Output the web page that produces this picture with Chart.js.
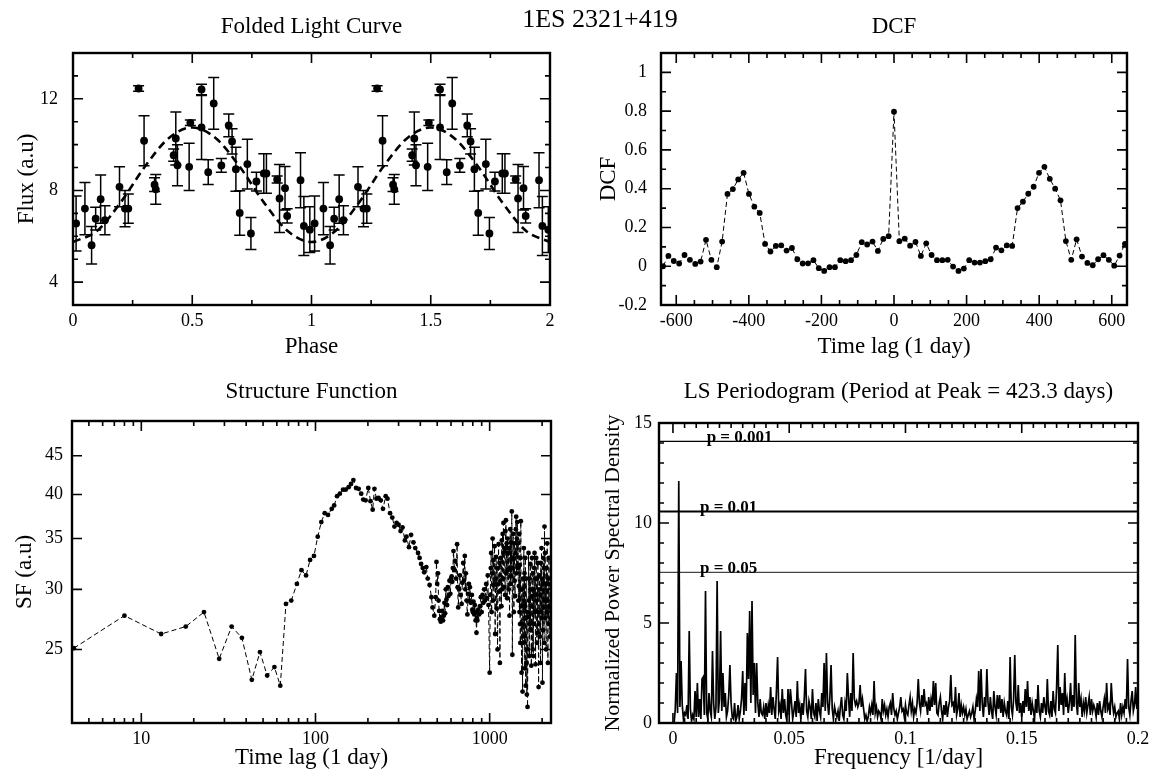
<!DOCTYPE html>
<html>
<head>
<meta charset="utf-8">
<script src="https://cdn.jsdelivr.net/npm/chart.js@4.4.0/dist/chart.umd.min.js"></script>
<style>
  body { margin: 0; background: #fff; }
  #wrap { position: relative; width: 1157px; height: 776px; overflow: hidden; }
  canvas { position: absolute; }
  #mainTitle { position: absolute; left: 500px; width: 200px; top: 4px; text-align: center;
               font: 26px 'Liberation Serif', serif; color: #000; }
</style>
</head>
<body>
<div id="wrap">
  <canvas id="fold" width="580" height="380" style="left:0;top:0"></canvas>
  <canvas id="dcf" width="577" height="380" style="left:580px;top:0"></canvas>
  <canvas id="sf" width="580" height="416" style="left:0;top:360px"></canvas>
  <canvas id="ls" width="577" height="416" style="left:580px;top:360px"></canvas>
  <div id="mainTitle">1ES 2321+419</div>
</div>
<script>
// ---- data ----

// folded light curve, one cycle (drawn again shifted by one phase)
var foldPhase = [0.013, 0.050, 0.078, 0.095, 0.116, 0.134, 0.195, 0.218, 0.232, 0.275,
                 0.298, 0.342, 0.347, 0.422, 0.431, 0.438, 0.487, 0.492, 0.539, 0.539,
                 0.567, 0.590, 0.622, 0.653, 0.667, 0.683, 0.699, 0.731, 0.746, 0.769,
                 0.800, 0.811, 0.856, 0.866, 0.889, 0.898, 0.954, 0.968, 0.993];
var foldFlux = [6.56, 7.21, 5.61, 6.77, 7.62, 6.70, 8.16, 7.21, 7.21, 12.45,
                10.17, 8.25, 8.05, 9.54, 10.27, 9.10, 9.03, 10.95, 12.41, 10.75,
                8.80, 11.80, 9.09, 10.84, 10.14, 8.93, 7.02, 9.15, 6.12, 8.39,
                8.74, 8.74, 8.48, 7.65, 8.10, 6.89, 8.45, 6.45, 6.29];
var foldErr = [1.20, 1.14, 0.82, 0.50, 1.05, 0.63, 0.87, 0.79, 0.64, 0.12,
               1.09, 0.30, 0.65, 0.27, 1.16, 0.90, 1.03, 0.12, 0.23, 1.40,
               0.54, 1.13, 0.30, 0.50, 0.55, 0.96, 0.97, 1.09, 0.70, 0.41,
               0.86, 0.86, 0.15, 1.48, 0.95, 0.31, 1.20, 1.29, 1.00];
var fitPhase = [0, 0.1, 0.2, 0.3, 0.4, 0.5, 0.6, 0.7, 0.8, 0.9, 1.0,
                1.1, 1.2, 1.3, 1.4, 1.5, 1.6, 1.7, 1.8, 1.9, 2.0];
var fitFlux = [5.75, 6.23, 7.48, 9.02, 10.27, 10.75, 10.27, 9.02, 7.48, 6.23, 5.75,
               6.23, 7.48, 9.02, 10.27, 10.75, 10.27, 9.02, 7.48, 6.23, 5.75];

// discrete correlation function, lags k*step for k = -43..43
var dcfLagStep = 14.8;
var dcfValues = [0.000, 0.053, 0.027, 0.014, 0.058, 0.033, 0.012, 0.024, 0.136, 0.033,
                 -0.005, 0.127, 0.373, 0.398, 0.448, 0.482, 0.373, 0.307, 0.275, 0.115,
                 0.076, 0.105, 0.108, 0.081, 0.094, 0.036, 0.014, 0.015, 0.031, -0.010,
                 -0.024, -0.005, -0.005, 0.031, 0.026, 0.031, 0.058, 0.124, 0.112, 0.127,
                 0.079, 0.141, 0.155, 0.797, 0.129, 0.142, 0.106, 0.125, 0.053, 0.118,
                 0.058, 0.031, 0.031, 0.033, -0.002, -0.024, -0.012, 0.031, 0.019, 0.019,
                 0.026, 0.036, 0.096, 0.082, 0.108, 0.105, 0.300, 0.333, 0.374, 0.410,
                 0.482, 0.513, 0.451, 0.400, 0.340, 0.130, 0.033, 0.139, 0.050, 0.017,
                 0.005, 0.036, 0.057, 0.033, 0.003, 0.055, 0.115];

// structure function
var sfLag = [4.1, 8.0, 13.0, 18.0, 22.9, 28.0, 33.0, 37.8, 43.1, 48.0, 52.8, 58.1, 62.8,
  67.7, 72.6, 78.2, 83.1, 88.3, 93.1, 98.0, 103, 108, 113, 118, 124, 128, 133, 138, 144,
  149, 155, 160, 165, 171, 177, 183, 188, 194, 201, 207, 213, 218, 224, 230, 237, 244,
  253, 259, 268, 276, 284, 292, 300, 308, 316, 326, 333, 344, 354, 365, 374, 388, 396,
  404, 413, 421, 433, 441, 452, 463, 470, 481,
  490, 495, 500, 505, 509, 513, 518, 524, 529, 535, 540, 545, 550, 555, 560, 565, 570,
  575, 580, 588, 595, 600, 605, 610, 615, 620, 627, 635, 642, 650, 655, 660, 667, 675,
  682, 690, 697, 705, 712, 720, 725, 730, 737, 745, 752, 760, 765, 770, 780, 790, 795,
  800, 808, 815, 822, 830, 835, 840, 845, 850, 860, 870, 880, 890, 900, 910, 920, 930,
  940, 955, 965, 975, 985,
  1000, 1008, 1015, 1020, 1027, 1033, 1040, 1047, 1053, 1060, 1067, 1075, 1082, 1090,
  1097, 1103, 1110, 1118, 1125, 1132, 1138, 1145, 1152, 1160, 1168, 1174, 1180, 1188,
  1194, 1200, 1207, 1213, 1220, 1227, 1233, 1240, 1247, 1253, 1260, 1267, 1273, 1280,
  1287, 1293, 1300, 1307, 1313, 1320, 1325, 1333, 1340, 1345, 1350, 1356, 1363, 1370,
  1378, 1385, 1392, 1400, 1407, 1413, 1420, 1427, 1433, 1440, 1447, 1455, 1462, 1470,
  1477, 1483, 1490, 1495, 1500, 1505, 1510, 1517, 1525, 1532, 1538, 1545, 1552, 1558,
  1565, 1572, 1578, 1585, 1590, 1597, 1603, 1610, 1617, 1623, 1630, 1635, 1642, 1650,
  1657, 1665, 1672, 1680, 1690, 1697, 1703, 1710, 1717, 1723, 1735, 1742, 1750, 1760,
  1767, 1773, 1780, 1788, 1795, 1803, 1810, 1817, 1825, 1835, 1842, 1850, 1860, 1867,
  1875, 1885, 1892, 1900, 1910, 1917, 1925, 1935, 1942, 1950, 1960, 1967, 1975, 1985,
  1992, 2000, 2010, 2018, 2025, 2033, 2040, 2048, 2055, 2065, 2072, 2080, 2090, 2100,
  2110, 2120, 2130, 2140, 2150, 2160, 2170, 2180, 2190, 2200, 2215, 2230];
var sfValue = [25.1, 27.7, 26.2, 26.8, 28.0, 24.3, 26.8, 25.9, 22.8, 24.8, 23.1, 23.7, 22.4,
  28.7, 29.0, 30.5, 31.8, 31.3, 32.8, 33.2, 35.2, 36.8, 37.8, 37.6, 38.3, 38.7, 39.8, 40.1, 40.6,
  40.6, 40.9, 41.3, 41.8, 40.8, 40.7, 40.1, 39.4, 39.3, 40.8, 39.2, 38.2, 40.7, 39.5, 39.6, 39.3, 38.3,
  39.8, 39.5, 37.8, 37.3, 36.3, 36.7, 36.5, 35.8, 36.2, 34.8, 35.2, 34.1, 35.4, 34.6, 34.0, 33.5, 33.0,
  32.4, 32.0, 31.6, 32.1, 31.0, 30.4, 29.3, 28.4, 27.7,
  29.3, 32.6, 30.5, 31.5, 29.0, 28.1, 27.4, 27.2, 27.6, 28.1, 27.3, 27.7, 28.8, 27.9, 30.0, 29.1, 28.6,
  30.2, 29.4, 30.8, 29.6, 31.0, 31.2, 30.7, 32.0, 33.7, 31.8, 32.7, 31.0, 34.4, 30.2, 28.4, 30.0, 31.3,
  29.5, 28.7, 30.6, 32.5, 30.8, 33.2, 30.0, 31.5, 29.0, 27.8, 29.6, 30.5, 29.0, 30.2, 28.8, 29.5, 28.2,
  28.0, 28.9, 27.8, 28.6, 27.3, 28.0, 26.3, 27.5, 27.3, 28.2, 27.8, 28.5, 29.3, 28.0, 29.5, 28.8, 30.0,
  29.0, 30.5, 29.2, 31.3, 28.6,
  23.3, 29.5, 32.0, 33.5, 28.0, 31.5, 35.0, 29.0, 32.8, 30.4, 34.2, 26.2, 31.0, 33.1,
  28.3, 32.0, 25.0, 30.5, 34.4, 29.8, 32.5, 24.0, 30.8, 33.0, 28.5, 34.8, 30.0, 35.5,
  31.0, 36.7, 30.2, 34.0, 33.6, 29.5, 35.8, 37.0, 31.5, 34.5, 29.2, 35.0, 31.8, 33.5,
  30.0, 34.0, 27.7, 32.0, 36.0, 30.5, 34.6, 31.2, 38.0, 33.0, 24.6, 32.0, 35.5, 32.9,
  28.0, 34.5, 30.8, 29.4, 33.5, 36.0, 37.4, 31.5, 35.0, 36.8, 32.0, 34.5, 29.0, 30.3,
  35.5, 28.0, 32.3, 27.0, 25.5, 33.0, 36.9, 28.5, 23.3, 30.0, 27.0, 22.0, 31.0, 25.5,
  29.0, 34.0, 26.0, 31.5, 23.6, 28.5, 33.0, 22.4, 27.5, 31.0, 24.0, 21.8, 28.0, 21.0,
  25.0, 27.6, 33.5, 29.0, 24.5, 31.0, 27.0, 32.4, 26.5, 30.0, 23.8, 28.5, 33.0, 29.4,
  25.0, 31.5, 24.5, 30.0, 27.0, 32.0, 33.5, 28.0, 31.0, 23.9, 29.5, 33.0, 29.0, 25.5,
  31.0, 26.3, 32.5, 28.0, 22.3, 27.0, 30.0, 31.3, 26.0, 29.5, 24.0, 32.5, 28.0, 34.0,
  27.5, 31.0, 22.6, 30.5, 26.5, 33.0, 28.4, 32.0, 25.5, 36.3, 29.0, 33.5, 27.5, 30.5,
  25.0, 32.0, 28.0, 34.5, 29.0, 24.0, 31.0, 27.0, 33.0, 28.5, 26.0, 30.5];

// Lomb-Scargle periodogram, frequency i*step for i = 1..400
var lsStep = 0.0005;
var lsPower = [
  0.0, 0.7, 2.5, 0.5, 12.1, 0.8, 3.1, 0.9, 0.2, 0.5, 0.4, 0.9, 0.2, 4.6, 0.7, 0.1, 0.4, 0.2, 1.6, 0.3,
  2.0, 0.3, 1.2, 0.2, 2.2, 2.3, 0.4, 6.6, 0.5, 0.2, 1.5, 0.6, 0.3, 3.6, 1.0, 0.2, 0.8, 7.1, 0.5, 1.2,
  4.6, 0.6, 2.5, 0.8, 1.5, 0.3, 0.6, 1.4, 2.9, 1.0, 0.3, 0.2, 1.0, 0.1, 0.3, 0.9, 0.2, 0.6, 1.2, 2.6,
  0.4, 2.0, 0.6, 4.5, 2.2, 5.6, 1.0, 6.1, 1.4, 3.0, 0.5, 3.0, 1.0, 0.3, 1.2, 0.5, 0.4, 0.8, 0.2, 1.0,
  0.3, 0.9, 0.5, 1.8, 0.4, 1.3, 0.7, 0.2, 1.6, 3.3, 0.6, 0.9, 0.2, 1.7, 0.5, 1.2, 0.4, 0.1, 1.7, 0.4,
  1.7, 1.0, 0.2, 0.6, 1.1, 0.3, 2.1, 0.5, 0.9, 0.2, 1.0, 0.4, 1.3, 2.7, 0.6, 0.3, 1.1, 0.8, 0.2, 1.7,
  0.5, 0.3, 1.0, 0.1, 1.2, 0.6, 0.3, 1.5, 0.8, 3.0, 0.6, 3.5, 1.0, 0.4, 1.3, 2.9, 0.7, 0.2, 0.8, 0.5,
  0.3, 0.6, 0.1, 0.8, 1.3, 0.4, 0.2, 1.0, 0.6, 2.5, 1.3, 0.3, 1.5, 0.6, 3.5, 1.2, 0.9, 1.1, 0.8, 1.0,
  1.9, 0.8, 1.2, 0.7, 0.2, 0.4, 0.1, 0.3, 0.8, 0.5, 0.9, 0.4, 2.1, 0.5, 0.8, 0.3, 0.6, 0.5, 0.2, 1.2,
  0.6, 0.9, 0.4, 0.7, 0.3, 0.8, 1.0, 0.4, 1.5, 0.7, 0.4, 0.6, 0.2, 0.5, 0.8, 1.3, 0.6, 0.7, 0.3, 0.9,
  0.5, 0.4, 0.9, 1.3, 0.6, 1.0, 0.3, 0.7, 0.5, 1.0, 2.2, 1.0, 0.6, 1.4, 0.8, 1.7, 0.9, 1.0, 0.4, 1.3,
  0.6, 1.2, 0.8, 2.1, 0.9, 2.0, 0.5, 0.4, 1.0, 1.3, 0.6, 0.2, 0.9, 0.4, 1.1, 0.3, 0.8, 1.1, 2.4, 0.9,
  1.0, 0.5, 1.8, 0.4, 0.7, 1.5, 0.3, 0.9, 0.5, 0.8, 0.4, 0.7, 0.2, 0.4, 0.6, 0.3, 0.5, 0.8, 0.2, 0.6,
  1.2, 0.8, 2.6, 0.6, 2.7, 1.0, 0.3, 1.3, 0.8, 2.7, 1.0, 0.4, 1.3, 0.6, 0.2, 1.6, 0.8, 0.4, 1.4, 0.7,
  1.4, 0.5, 1.2, 0.3, 1.0, 0.6, 0.4, 1.1, 0.2, 3.3, 0.8, 0.4, 1.2, 3.4, 1.0, 0.6, 1.9, 0.5, 1.0, 0.3,
  1.1, 0.5, 1.7, 0.8, 2.1, 0.6, 1.3, 0.4, 1.0, 0.6, 0.2, 1.2, 0.5, 1.9, 0.6, 0.3, 1.0, 0.5, 1.3, 0.8,
  0.4, 2.2, 0.6, 0.4, 1.1, 0.3, 1.6, 0.7, 0.5, 1.8, 3.9, 0.6, 1.8, 0.9, 1.5, 0.4, 2.5, 0.8, 1.2, 0.5,
  1.0, 2.0, 0.6, 1.4, 0.8, 4.4, 1.0, 0.4, 2.0, 0.8, 1.2, 0.3, 1.0, 0.6, 1.3, 0.5, 0.9, 1.3, 0.4, 1.2,
  0.6, 0.9, 0.7, 0.3, 1.0, 0.4, 1.1, 0.6, 0.3, 0.8, 1.2, 0.5, 2.0, 0.7, 0.9, 0.4, 2.0, 1.0, 0.5, 0.8,
  0.3, 0.5, 0.6, 0.2, 1.0, 0.4, 0.8, 0.5, 1.2, 0.7, 3.2, 0.8, 0.4, 1.1, 1.6, 0.6, 0.9, 1.8, 0.7, 1.6];

// significance levels
var pLevels = [14.08, 10.58, 7.53];
var pNames = ['p = 0.001', 'p = 0.01', 'p = 0.05'];

// tick labels
var phaseTicks = [0, 0.5, 1, 1.5, 2];
var fluxTicks = [4, 8, 12];
var lagTicks = [-600, -400, -200, 0, 200, 400, 600];
var dcfTicks = [-0.2, 0, 0.2, 0.4, 0.6, 0.8, 1];
var sfLagTicks = [10, 100, 1000];
var sfTicks = [25, 30, 35, 40, 45];
var freqTicks = [0, 0.05, 0.1, 0.15, 0.2];
var psdTicks = [0, 5, 10, 15];

// ---- helpers ----
var serif = "'Liberation Serif', 'Times New Roman', serif";

function steps(a, b, st, skip) {
  var out = [];
  for (var v = a; v <= b + st / 100; v += st) {
    var r = Math.round(v * 10000) / 10000;
    if (skip.indexOf(r) < 0) out.push(r);
  }
  return out;
}

function axis(o) {
  return {
    type: o.type || 'linear',
    min: o.min,
    max: o.max,
    grid: { display: false, drawTicks: false },
    border: { display: false },
    ticks: {
      color: '#000', font: { family: serif, size: 18 }, padding: o.pad,
      maxRotation: 0, autoSkip: false,
      callback: function (v) { return String(v); }
    },
    afterBuildTicks: function (s) { s.ticks = o.labels.map(function (v) { return { value: v }; }); },
    title: { display: true, text: o.title, color: '#000', font: { family: serif, size: o.titleSize || 23 }, padding: o.titlePad },
    afterFit: function (s) { if (s.isHorizontal()) s.height = o.size; else s.width = o.size; }
  };
}

// inward ticks on all four sides plus the frame
var frameTicks = {
  id: 'frameTicks',
  afterDraw: function (chart, args, o) {
    if (!o || !o.x) return;
    var ctx = chart.ctx, a = chart.chartArea, xs = chart.scales.x, ys = chart.scales.y;
    ctx.save();
    ctx.strokeStyle = '#000';
    ctx.lineWidth = 1.6;
    ctx.beginPath();
    function xt(vals, len) {
      vals.forEach(function (v) {
        var p = xs.getPixelForValue(v);
        ctx.moveTo(p, a.bottom); ctx.lineTo(p, a.bottom - len);
        ctx.moveTo(p, a.top); ctx.lineTo(p, a.top + len);
      });
    }
    function yt(vals, len) {
      vals.forEach(function (v) {
        var p = ys.getPixelForValue(v);
        ctx.moveTo(a.left, p); ctx.lineTo(a.left + len, p);
        ctx.moveTo(a.right, p); ctx.lineTo(a.right - len, p);
      });
    }
    xt(o.x.major, 10); xt(o.x.minor, 5);
    yt(o.y.major, 10); yt(o.y.minor, 5);
    ctx.stroke();
    ctx.lineWidth = 2.4;
    ctx.strokeRect(a.left, a.top, a.right - a.left, a.bottom - a.top);
    ctx.restore();
  }
};

// title centred over the plot area
var panelTitle = {
  id: 'panelTitle',
  afterDraw: function (chart, args, o) {
    if (!o || !o.text) return;
    var ctx = chart.ctx, a = chart.chartArea;
    ctx.save();
    ctx.font = '23px ' + serif;
    ctx.fillStyle = '#000';
    ctx.textAlign = 'center';
    ctx.textBaseline = 'middle';
    ctx.fillText(o.text, (a.left + a.right) / 2 + (o.dx || 0), a.top - o.gap);
    ctx.restore();
  }
};

// vertical error bars with caps
var errorBars = {
  id: 'errorBars',
  beforeDatasetsDraw: function (chart, args, o) {
    if (!o || !o.err) return;
    var ctx = chart.ctx, a = chart.chartArea, xs = chart.scales.x, ys = chart.scales.y;
    var pts = chart.data.datasets[o.dataset].data;
    ctx.save();
    ctx.beginPath();
    ctx.rect(a.left, a.top, a.right - a.left, a.bottom - a.top);
    ctx.clip();
    ctx.strokeStyle = '#000';
    ctx.lineWidth = 1.5;
    ctx.beginPath();
    pts.forEach(function (d, i) {
      var x = xs.getPixelForValue(d.x);
      var y1 = ys.getPixelForValue(d.y - o.err[i]);
      var y2 = ys.getPixelForValue(d.y + o.err[i]);
      ctx.moveTo(x, y1); ctx.lineTo(x, y2);
      ctx.moveTo(x - 5.5, y1); ctx.lineTo(x + 5.5, y1);
      ctx.moveTo(x - 5.5, y2); ctx.lineTo(x + 5.5, y2);
    });
    ctx.stroke();
    ctx.restore();
  }
};

// labels of the significance lines
var levelLabels = {
  id: 'levelLabels',
  afterDatasetsDraw: function (chart, args, o) {
    if (!o || !o.levels) return;
    var ctx = chart.ctx, xs = chart.scales.x, ys = chart.scales.y;
    ctx.save();
    ctx.font = 'bold 17px ' + serif;
    ctx.fillStyle = '#000';
    ctx.textAlign = 'left';
    ctx.textBaseline = 'alphabetic';
    o.levels.forEach(function (lv, i) {
      ctx.fillText(o.names[i], xs.getPixelForValue(o.at[i]), ys.getPixelForValue(lv) + 1);
    });
    ctx.restore();
  }
};

Chart.register(frameTicks, panelTitle, errorBars, levelLabels);
Chart.defaults.animation = false;
Chart.defaults.color = '#000';

// ---- folded light curve ----
var foldPts = [];
[0, 1].forEach(function (c) {
  foldPhase.forEach(function (p, i) { foldPts.push({ x: p + c, y: foldFlux[i] }); });
});
var fitPts = fitPhase.map(function (p, i) { return { x: p, y: fitFlux[i] }; });

new Chart(document.getElementById('fold'), {
  type: 'scatter',
  data: {
    datasets: [
      { data: foldPts, pointRadius: 3.9, pointBackgroundColor: '#000', pointBorderWidth: 0, showLine: false },
      { data: fitPts, showLine: true, borderColor: '#000', borderWidth: 2.6, borderDash: [8, 5],
        pointRadius: 0, cubicInterpolationMode: 'monotone' }
    ]
  },
  options: {
    responsive: false,
    layout: { padding: { left: 0, top: 53, right: 30, bottom: 13 } },
    plugins: {
      legend: { display: false }, tooltip: { enabled: false },
      panelTitle: { text: 'Folded Light Curve', gap: 26 },
      errorBars: { dataset: 0, err: foldErr.concat(foldErr) },
      frameTicks: {
        x: { major: phaseTicks, minor: [0.25, 0.75, 1.25, 1.75] },
        y: { major: fluxTicks, minor: [5, 6, 7, 9, 10, 11, 13] }
      }
    },
    scales: {
      x: axis({ min: 0, max: 2, labels: phaseTicks, pad: 5, title: 'Phase', titlePad: { top: 0, bottom: 6 }, size: 62 }),
      y: axis({ min: 3, max: 14, labels: fluxTicks, pad: 15, title: 'Flux (a.u)', titlePad: { top: 13, bottom: 0 }, size: 73 })
    }
  }
});

// ---- DCF ----
var dcfPts = dcfValues.map(function (v, i) { return { x: (i - 43) * dcfLagStep, y: v }; });

new Chart(document.getElementById('dcf'), {
  type: 'scatter',
  data: {
    datasets: [
      { data: dcfPts, showLine: true, borderColor: '#000', borderWidth: 1, borderDash: [5, 3],
        pointRadius: 2.9, pointBackgroundColor: '#000', pointBorderWidth: 0 }
    ]
  },
  options: {
    responsive: false,
    layout: { padding: { left: 0, top: 53, right: 30, bottom: 13 } },
    plugins: {
      legend: { display: false }, tooltip: { enabled: false },
      panelTitle: { text: 'DCF', gap: 26 },
      frameTicks: {
        x: { major: lagTicks, minor: steps(-600, 600, 50, lagTicks) },
        y: { major: dcfTicks, minor: steps(-0.1, 0.9, 0.2, []) }
      }
    },
    scales: {
      x: axis({ min: -642, max: 642, labels: lagTicks, pad: 5, title: 'Time lag (1 day)', titlePad: { top: 0, bottom: 6 }, size: 62 }),
      y: axis({ min: -0.2, max: 1.1, labels: dcfTicks, pad: 14, title: 'DCF', titlePad: { top: 15, bottom: 0 }, size: 81 })
    }
  }
});

// ---- structure function ----
var sfPts = sfLag.map(function (l, i) { return { x: l, y: sfValue[i] }; });
var sfMinor = [5, 6, 7, 8, 9, 20, 30, 40, 50, 60, 70, 80, 90, 200, 300, 400, 500, 600, 700, 800, 900, 2000];

new Chart(document.getElementById('sf'), {
  type: 'scatter',
  data: {
    datasets: [
      { data: sfPts, showLine: true, borderColor: '#000', borderWidth: 1, borderDash: [5, 3],
        pointRadius: 2.4, pointBackgroundColor: '#000', pointBorderWidth: 0 }
    ]
  },
  options: {
    responsive: false,
    layout: { padding: { left: 0, top: 61, right: 29, bottom: 3 } },
    plugins: {
      legend: { display: false }, tooltip: { enabled: false },
      panelTitle: { text: 'Structure Function', gap: 29 },
      frameTicks: {
        x: { major: sfLagTicks, minor: sfMinor },
        y: { major: sfTicks, minor: [] }
      }
    },
    scales: {
      x: axis({ type: 'logarithmic', min: 4, max: 2250, labels: sfLagTicks, pad: 5, title: 'Time lag (1 day)', titlePad: { top: 0, bottom: 1 }, size: 50 }),
      y: axis({ type: 'logarithmic', min: 20, max: 50, labels: sfTicks, pad: 9, title: 'SF (a.u)', titlePad: { top: 11, bottom: 0 }, size: 72 })
    }
  }
});

// ---- LS periodogram ----
var lsPts = lsPower.map(function (v, i) { return { x: (i + 1) * lsStep, y: v }; });
var levelSets = pLevels.map(function (lv, i) {
  return {
    data: [{ x: -0.006, y: lv }, { x: 0.2, y: lv }], showLine: true, pointRadius: 0,
    borderColor: i === 2 ? '#444' : '#000', borderWidth: i === 1 ? 2 : 1.2
  };
});

new Chart(document.getElementById('ls'), {
  type: 'scatter',
  data: {
    datasets: [
      { data: lsPts, showLine: true, borderColor: '#000', borderWidth: 1.7, pointRadius: 0 }
    ].concat(levelSets)
  },
  options: {
    responsive: false,
    layout: { padding: { left: 0, top: 63, right: 19, bottom: 3 } },
    plugins: {
      legend: { display: false }, tooltip: { enabled: false },
      panelTitle: { text: 'LS Periodogram (Period at Peak = 423.3 days)', gap: 31 },
      levelLabels: { levels: pLevels, names: pNames, at: [0.0145, 0.0116, 0.0116] },
      frameTicks: {
        x: { major: freqTicks, minor: steps(0.005, 0.195, 0.005, freqTicks) },
        y: { major: psdTicks, minor: steps(1, 14, 1, psdTicks) }
      }
    },
    scales: {
      x: axis({ min: -0.006, max: 0.2, labels: freqTicks, pad: 5, title: 'Frequency [1/day]', titlePad: { top: 0, bottom: 1 }, size: 50 }),
      y: axis({ min: 0, max: 15, labels: psdTicks, pad: 7, title: 'Normalized Power Spectral Density', titleSize: 22, titlePad: { top: 20, bottom: 0 }, size: 79 })
    }
  }
});
</script>
</body>
</html>
